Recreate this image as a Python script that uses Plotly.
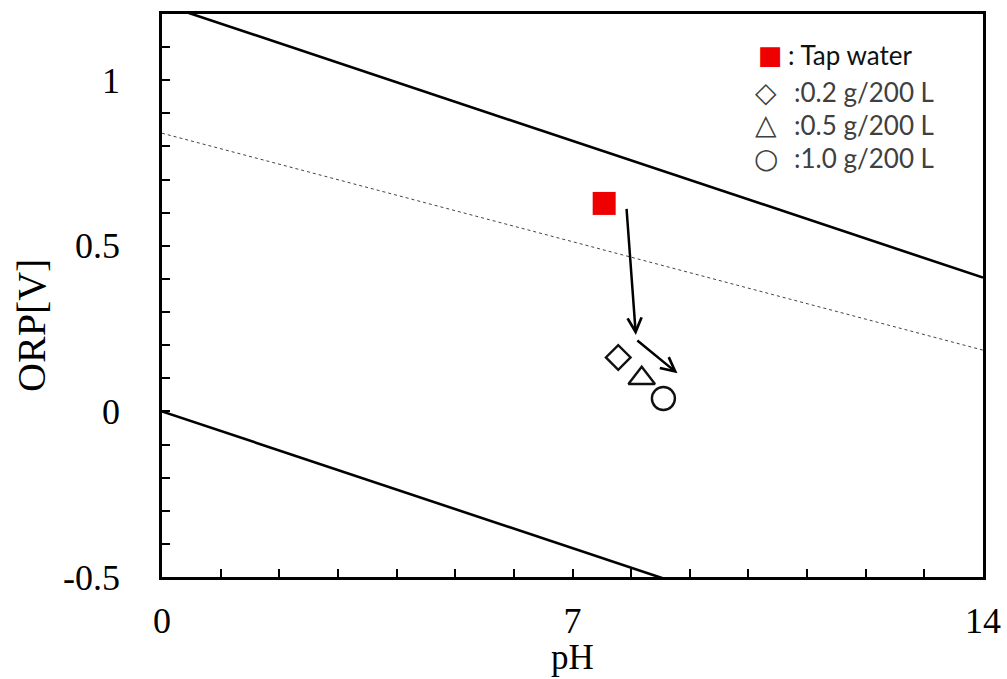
import plotly.graph_objects as go

# Data
ph_range = [0, 14]
upper_line_orp = [1.23, 0.404]      # O2/H2O line at pH 0 and 14
lower_line_orp = [0.0, -0.826]      # H2/H2O line at pH 0 and 14
dotted_line_orp = [0.84, 0.185]

labels = [": Tap water", ":0.2 g/200 L", ":0.5 g/200 L", ":1.0 g/200 L"]
sample_ph = [7.54, 7.78, 8.18, 8.55]
sample_orp = [0.628, 0.163, 0.100, 0.039]
symbols = ["square", "diamond-open", "triangle-up-open", "circle-open"]
marker_sizes = [23, 19, 23, 23]
legend_glyphs = ["■", "◇", "△", "○"]

arrow_start_ph = [7.92, 8.08]
arrow_start_orp = [0.616, 0.218]
arrow_end_ph = [8.08, 8.79]
arrow_end_orp = [0.231, 0.115]

x_ticks = [0, 7, 14]
x_tick_text = ["0", "7", "14"]
y_ticks = [-0.5, 0, 0.5, 1]
y_tick_text = ["-0.5", "0", "0.5", "1"]

fig = go.Figure()
fig.add_trace(go.Scatter(x=ph_range, y=upper_line_orp, mode="lines",
                         line=dict(color="black", width=2.6), showlegend=False, hoverinfo="skip"))
fig.add_trace(go.Scatter(x=ph_range, y=lower_line_orp, mode="lines",
                         line=dict(color="black", width=2.6), showlegend=False, hoverinfo="skip"))
fig.add_trace(go.Scatter(x=ph_range, y=dotted_line_orp, mode="lines",
                         line=dict(color="#444444", width=1, dash="dot"), showlegend=False, hoverinfo="skip"))

for i in range(4):
    is_sq = symbols[i] == "square"
    fig.add_trace(go.Scatter(
        x=[sample_ph[i]], y=[sample_orp[i]], mode="markers", showlegend=False,
        marker=dict(symbol=symbols[i], size=marker_sizes[i],
                    color="#ee0000" if is_sq else "#111111",
                    line=dict(width=0 if is_sq else 2.4, color="#111111")),
    ))

for i in range(len(arrow_start_ph)):
    fig.add_annotation(x=arrow_end_ph[i], y=arrow_end_orp[i],
                       ax=arrow_start_ph[i], ay=arrow_start_orp[i],
                       xref="x", yref="y", axref="x", ayref="y",
                       showarrow=True, arrowhead=5, arrowsize=1.1, arrowwidth=2.5,
                       arrowcolor="black", text="")

# Manual legend
legend_y = [0.927, 0.861, 0.803, 0.744]
glyph_x = [0.741, 0.736, 0.736, 0.736]
text_x = [0.760, 0.767, 0.767, 0.767]
glyph_sizes = [26, 28, 28, 28]
text_colors = ["#111111", "#404040", "#404040", "#404040"]
glyph_colors = ["#ee0000", "#404040", "#404040", "#404040"]
for i in range(4):
    fig.add_annotation(xref="paper", yref="paper", x=glyph_x[i], y=legend_y[i],
                       xanchor="center", yanchor="middle", showarrow=False,
                       text=legend_glyphs[i],
                       font=dict(family="DejaVu Sans", size=glyph_sizes[i],
                                 color=glyph_colors[i]))
    fig.add_annotation(xref="paper", yref="paper", x=text_x[i], y=legend_y[i],
                       xanchor="left", yanchor="middle", showarrow=False,
                       text=labels[i],
                       font=dict(family="Lato", size=26, color=text_colors[i]))

tick_font = dict(family="Liberation Serif", size=36, color="black")
fig.add_annotation(xref="paper", yref="paper", x=0, y=0.446, xshift=-130,
                   xanchor="center", yanchor="middle", textangle=-90,
                   showarrow=False, text="ORP[V]",
                   font=dict(family="Liberation Serif", size=40, color="black"))
fig.add_annotation(xref="paper", yref="paper", x=0.5, y=0, yshift=-80,
                   xanchor="center", yanchor="middle",
                   showarrow=False, text="pH",
                   font=dict(family="Liberation Serif", size=35, color="black"))

fig.update_layout(
    width=1007, height=679,
    margin=dict(l=162, r=24, t=14, b=102),
    plot_bgcolor="white", paper_bgcolor="white",
    showlegend=False,
    xaxis=dict(range=[0, 14], tickvals=x_ticks, ticktext=x_tick_text,
               ticks="", showgrid=False, zeroline=False, automargin=False,
               showline=True, linecolor="black", linewidth=2.5, mirror=True,
               tickfont=tick_font, ticklabelstandoff=10, ticklabeloverflow="allow",
               minor=dict(tickvals=list(range(1, 14)), ticks="inside", ticklen=8,
                          tickwidth=2, tickcolor="black", showgrid=False)),
    yaxis=dict(range=[-0.5, 1.2], tickvals=y_ticks, ticktext=y_tick_text,
               ticks="", showgrid=False, zeroline=False, automargin=False,
               showline=True, linecolor="black", linewidth=2.5, mirror=True,
               tickfont=tick_font, ticklabelstandoff=32,
               minor=dict(tickvals=[round(-0.4 + 0.1 * k, 1) for k in range(16)],
                          ticks="inside", ticklen=8, tickwidth=2, tickcolor="black", showgrid=False)),
)
fig.write_html("out.html")
